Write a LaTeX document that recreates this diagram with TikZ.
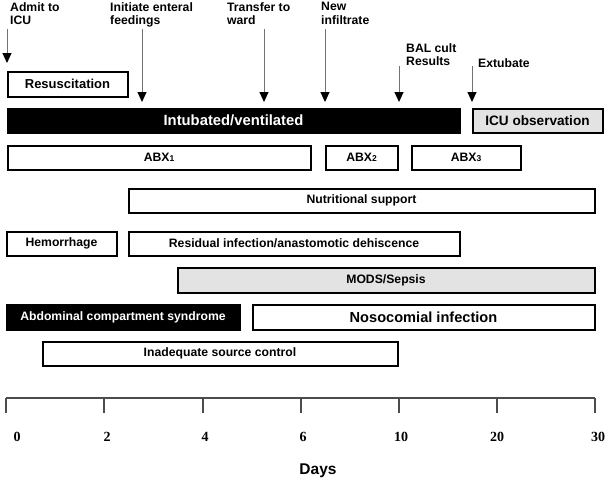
\documentclass[tikz,border=0pt]{standalone}
\usepackage{fontspec}
\setmainfont{Liberation Sans}
\newfontfamily\serifnum{Liberation Serif}
\usetikzlibrary{arrows.meta}
\newcommand{\abxsub}[1]{\raisebox{-0.5pt}{\fontsize{8.5}{9}\selectfont #1}}
\begin{document}
\begin{tikzpicture}[x=1pt,y=-1pt,
  bar/.style={draw=black, line width=2pt, inner sep=0pt, minimum height=24pt,
    font=\fontsize{12.2}{14}\selectfont\bfseries},
  whitebar/.style={bar, fill=white},
  graybar/.style={bar, fill=black!11},
  blackbar/.style={bar, fill=black, text=white},
  evt/.style={font=\fontsize{12.2}{13.5}\selectfont\bfseries, align=left, anchor=north west, inner sep=0pt},
  evarrow/.style={draw=black!55, line width=1pt, -{Triangle[width=9pt,length=10pt,color=black]}},
  axisline/.style={draw=black!70, line width=1.4pt},
  ticklab/.style={font=\fontsize{14}{16}\selectfont\serifnum\bfseries, inner sep=0pt},
  ]
\useasboundingbox (0,0) rectangle (610,482);

% event labels
\node[evt] (admit) at (10,2) {Admit to\\ICU};
\node[evt] (init) at (110,2) {Initiate enteral\\feedings};
\node[evt] (trans) at (227,2) {Transfer to\\ward};
\node[evt] (newinf) at (321,2) {New\\infiltrate};
\node[evt] (bal) at (406,43) {BAL cult\\Results};
\node[evt] (extub) at (478,58) {Extubate};

% arrows
\coordinate (admitS) at (7,29);   \coordinate (admitE) at (7,63);
\coordinate (initS) at (142,29);  \coordinate (initE) at (142,102);
\coordinate (transS) at (264,29); \coordinate (transE) at (264,102);
\coordinate (newS) at (325,29);   \coordinate (newE) at (325,102);
\coordinate (balS) at (399,66);   \coordinate (balE) at (399,102);
\coordinate (extS) at (472,66);   \coordinate (extE) at (472,102);
\draw[evarrow] (admitS) -- (admitE);
\draw[evarrow] (initS) -- (initE);
\draw[evarrow] (transS) -- (transE);
\draw[evarrow] (newS) -- (newE);
\draw[evarrow] (balS) -- (balE);
\draw[evarrow] (extS) -- (extE);

% bars
\node[whitebar, minimum width=120pt, minimum height=25pt, font=\fontsize{13}{14}\selectfont\bfseries] (resus) at (67.5,84) {Resuscitation};
\node[blackbar, minimum width=452pt, font=\fontsize{14.8}{16}\selectfont\bfseries] (intub) at (233.5,120.5) {Intubated/ventilated};
\node[graybar, minimum width=130pt, font=\fontsize{13.6}{15}\selectfont\bfseries] (icu) at (537.5,120.5) {ICU observation};

\node[whitebar, minimum width=303pt] (abx1) at (159,157.5) {ABX\abxsub{1}};
\node[whitebar, minimum width=72pt] (abx2) at (361.5,157.5) {ABX\abxsub{2}};
\node[whitebar, minimum width=109pt] (abx3) at (466,157.5) {ABX\abxsub{3}};

\node[whitebar, minimum width=466pt] (nutr) at (361.5,200.5) {Nutritional support};

\node[whitebar, minimum width=110pt] (hem) at (61.5,243.5) {Hemorrhage};
\node[whitebar, minimum width=331pt] (resid) at (294,243.5) {Residual infection/anastomotic dehiscence};

\node[graybar, minimum width=417pt, minimum height=25pt] (mods) at (386,280) {MODS/Sepsis};

\node[blackbar, minimum width=233pt, minimum height=25pt] (abd) at (123,317) {Abdominal compartment syndrome};
\node[whitebar, minimum width=342pt, minimum height=25pt, font=\fontsize{14.6}{16}\selectfont\bfseries] (noso) at (423.5,317) {Nosocomial infection};

\node[whitebar, minimum width=355pt] (inad) at (220,353.5) {Inadequate source control};

% axis
\coordinate (ax0) at (6,398);
\coordinate (ax30) at (595,398);
\draw[axisline] (ax0) -- (ax30);
\foreach \x/\lab/\lx in {6/0/17, 104/2/107, 203/4/205, 301/6/303, 399/10/401, 497/20/497, 595/30/598}{
  \draw[axisline] (\x,398) -- (\x,413);
  \node[ticklab] (tl\lab) at (\lx,437) {\lab};
}
\node[font=\fontsize{15.5}{17}\selectfont\bfseries, inner sep=0pt] (days) at (318,471) {Days};
\end{tikzpicture}
\end{document}
